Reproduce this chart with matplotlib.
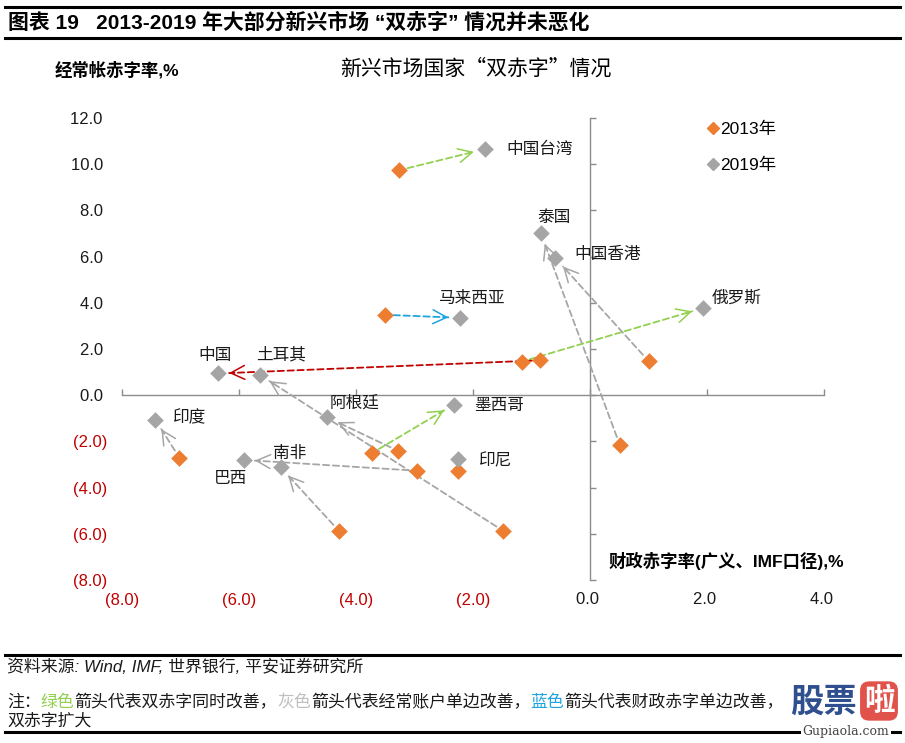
import matplotlib
matplotlib.use('Agg')
import matplotlib.pyplot as plt
from matplotlib.lines import Line2D
import numpy as np

plt.rcParams['font.family'] = ['Liberation Sans', 'Noto Sans CJK SC']

# ---------------- data ----------------
countries = ['中国台湾', '马来西亚', '泰国', '中国香港', '俄罗斯', '中国', '土耳其',
             '阿根廷', '墨西哥', '印度', '巴西', '南非', '印尼']
fiscal_2013 = [-3.26, -3.50, 0.51, 1.00, -1.17, -0.85, -1.48, -3.28, -3.73, -7.02, -2.96, -4.29, -2.25]
ca_2013 = [9.74, 3.48, -2.15, 1.48, 1.45, 1.51, -5.88, -2.41, -2.51, -2.70, -3.27, -5.88, -3.26]
fiscal_2019 = [-1.80, -2.23, -0.84, -0.59, 1.93, -6.36, -5.64, -4.49, -2.33, -7.43, -5.92, -5.29, -2.25]
ca_2019 = [10.65, 3.35, 7.00, 5.93, 3.77, 0.94, 0.87, -0.96, -0.41, -1.06, -2.80, -3.12, -2.77]
change_type = ['both', 'fiscal', 'ca', 'ca', 'both', 'worse', 'ca', 'ca', 'both', 'ca', 'ca', 'ca', 'none']
series_labels = ['2013年', '2019年']
x_ticks = [-8, -6, -4, -2, 0, 2, 4]
y_ticks = [-8, -6, -4, -2, 0, 2, 4, 6, 8, 10, 12]

# ---------------- style ----------------
ORANGE = '#ED7D31'
GRAY = '#A5A5A5'
RED = '#C00000'
arrow_colors = {'both': '#92D050', 'ca': '#A6A6A6', 'fiscal': '#1EA5DD', 'worse': '#C00000'}
# label offsets (px) relative to the 2019 point: (dx, dy, ha)
label_offsets = {
    '中国台湾': (22, 0, 'left'), '泰国': (13, 16, 'center'), '中国香港': (19, 4, 'left'),
    '俄罗斯': (9, 10, 'left'), '马来西亚': (-22, 19, 'left'), '中国': (-20, 18, 'left'),
    '土耳其': (-4, 20, 'left'), '阿根廷': (2, 14, 'left'), '墨西哥': (20, -1, 'left'),
    '印度': (18, 2, 'left'), '南非': (-8, 14, 'left'), '印尼': (21, -1, 'left'),
    '巴西': (-30, -19, 'left'),
}

W, H = 905, 743
fig = plt.figure(figsize=(W / 100, H / 100), dpi=100)
pos = [122 / W, 1 - 580 / H, 702 / W, 462 / H]

# axes carrying the zero-crossing axis lines
axz = fig.add_axes(pos, zorder=0)
ax = fig.add_axes(pos, zorder=1, sharex=axz, sharey=axz)
ax.set_xlim(-8, 4)
ax.set_ylim(-8, 12)
ax.set_xticks(x_ticks)
ax.set_yticks(y_ticks)

for name in ['top', 'right']:
    axz.spines[name].set_visible(False)
axz.spines['left'].set_position(('data', 0))
axz.spines['bottom'].set_position(('data', 0))
for name in ['left', 'bottom']:
    axz.spines[name].set_color('#8C8C8C')
    axz.spines[name].set_linewidth(1.0)
axz.tick_params(direction='in', length=4, width=1, color='#8C8C8C',
                labelleft=False, labelbottom=False)
axz.patch.set_visible(False)

ax.patch.set_visible(False)
for s in ax.spines.values():
    s.set_visible(False)


def fmt(v):
    return f'({abs(v):.1f})' if v < 0 else f'{v:.1f} '


ax.set_xticklabels([fmt(v) for v in x_ticks])
ax.set_yticklabels([fmt(v) for v in y_ticks])
ax.tick_params(axis='both', length=0, labelsize=12)
ax.tick_params(axis='y', pad=10.5)
ax.tick_params(axis='x', pad=9)
for lab, v in zip(ax.get_xticklabels(), x_ticks):
    lab.set_color(RED if v < 0 else '#1A1A1A')
for lab, v in zip(ax.get_yticklabels(), y_ticks):
    lab.set_color(RED if v < 0 else '#1A1A1A')

# arrows
for i in range(len(countries)):
    kind = change_type[i]
    if kind == 'none':
        continue
    c = arrow_colors[kind]
    start = (fiscal_2013[i], ca_2013[i])
    end = (fiscal_2019[i], ca_2019[i])
    ax.annotate('', xy=end, xytext=start, zorder=2,
                arrowprops=dict(arrowstyle='-', color=c, lw=1.3, ls=(0, (3.5, 2)),
                                shrinkA=6, shrinkB=8))
    p0 = ax.transData.transform(start)
    p1 = ax.transData.transform(end)
    d = (p0 - p1) / np.hypot(*(p0 - p1))
    off = d * 12  # points back along the arrow direction
    ax.annotate('', xy=end, xytext=(off[0], off[1]), textcoords='offset points', zorder=2,
                arrowprops=dict(arrowstyle='->,head_length=1.0,head_width=0.5', color=c,
                                lw=1.1, shrinkA=0, shrinkB=8, mutation_scale=10))

ax.scatter(fiscal_2013, ca_2013, marker='D', s=72, color=ORANGE, zorder=3, linewidths=0)
ax.scatter(fiscal_2019, ca_2019, marker='D', s=72, color=GRAY, zorder=4, linewidths=0)

for i, name in enumerate(countries):
    dx, dy, ha = label_offsets[name]
    ax.annotate(name, xy=(fiscal_2019[i], ca_2019[i]), xytext=(dx * 0.72, dy * 0.72),
                textcoords='offset points', ha=ha, va='center', fontsize=12, color='#1A1A1A',
                zorder=5)

handles = [Line2D([], [], marker='D', ls='', color=ORANGE, ms=6),
           Line2D([], [], marker='D', ls='', color=GRAY, ms=6)]
ax.legend(handles, series_labels, loc='upper left', bbox_to_anchor=(708 / W, 1 - 122 / H),
          bbox_transform=fig.transFigure, frameon=False, fontsize=12.5, handlelength=0.55,
          handletextpad=0.15, labelspacing=1.2, borderpad=0, borderaxespad=0)

# axis titles
fig.text(55 / W, 1 - 70 / H, '经常帐赤字率,%', fontsize=12.5, fontweight='bold',
         ha='left', va='center', color='#000000')
fig.text(609 / W, 1 - 561 / H, '财政赤字率(广义、IMF口径),%', fontsize=12.5, fontweight='bold',
         ha='left', va='center', color='#000000')
fig.text(476 / W, 1 - 69 / H, '新兴市场国家“双赤字”情况', fontsize=15,
         family=['Noto Sans CJK SC', 'Liberation Sans'], ha='center', va='center',
         color='#000000')

# header
fig.add_artist(Line2D([5 / W, 900 / W], [1 - 7 / H, 1 - 7 / H], color='black', lw=2.2))
fig.add_artist(Line2D([5 / W, 900 / W], [1 - 38 / H, 1 - 38 / H], color='black', lw=2.2))
fig.text(8 / W, 1 - 22 / H, '图表 19   2013-2019 年大部分新兴市场 “双赤字” 情况并未恶化',
         fontsize=15, fontweight='bold', ha='left', va='center', color='black')

# footer
fig.add_artist(Line2D([5 / W, 900 / W], [1 - 655 / H, 1 - 655 / H], color='black', lw=2.2))
fig.add_artist(Line2D([5 / W, 900 / W], [1 - 732 / H, 1 - 732 / H], color='black', lw=2.2))

axf = fig.add_axes([0, 0, 1, 1], zorder=5)
axf.axis('off')
axf.set_xlim(0, 1)
axf.set_ylim(0, 1)

fs = 12.2
axf.text(7 / W, 1 - 667 / H, '资料来源: Wind, IMF, 世界银行, 平安证券研究所', fontsize=fs,
         style='italic', ha='left', va='center', color='#1A1A1A')

pieces = [('注：', '#1A1A1A'), ('绿色', '#92D050'), ('箭头代表双赤字同时改善，', '#1A1A1A'),
          ('灰色', '#BFBFBF'), ('箭头代表经常账户单边改善，', '#1A1A1A'), ('蓝色', '#1EA5DD'),
          ('箭头代表财政赤字单边改善，', '#1A1A1A')]
prev = axf.text(7 / W, 1 - 710 / H, pieces[0][0], fontsize=fs, style='italic',
                ha='left', va='bottom', color=pieces[0][1])
for txt, col in pieces[1:]:
    prev = axf.annotate(txt, xy=(1, 0), xycoords=prev, ha='left', va='bottom',
                        fontsize=fs, style='italic', color=col)
axf.text(7 / W, 1 - 721 / H, '双赤字扩大', fontsize=fs, style='italic', ha='left',
         va='center', color='#1A1A1A')

# watermark
axf.text(790 / W, 1 - 702 / H, '股票', fontsize=24, fontweight='bold', color='#2F4F8F',
         ha='left', va='center', family=['Noto Sans CJK SC'])
axf.text(879 / W, 1 - 701 / H, '啦', fontsize=22, fontweight='bold', color='white',
         ha='center', va='center', family=['Noto Sans CJK SC'],
         bbox=dict(boxstyle='round,pad=0.12,rounding_size=0.3', fc='#E0524A', ec='none'))
axf.text(846 / W, 1 - 731 / H, 'Gupiaola.com', fontsize=9, color='#444444',
         ha='center', va='center', family=['DejaVu Serif'],
         bbox=dict(boxstyle='square,pad=0.1', fc='white', ec='none'))

fig.savefig('out.png', dpi=100)
